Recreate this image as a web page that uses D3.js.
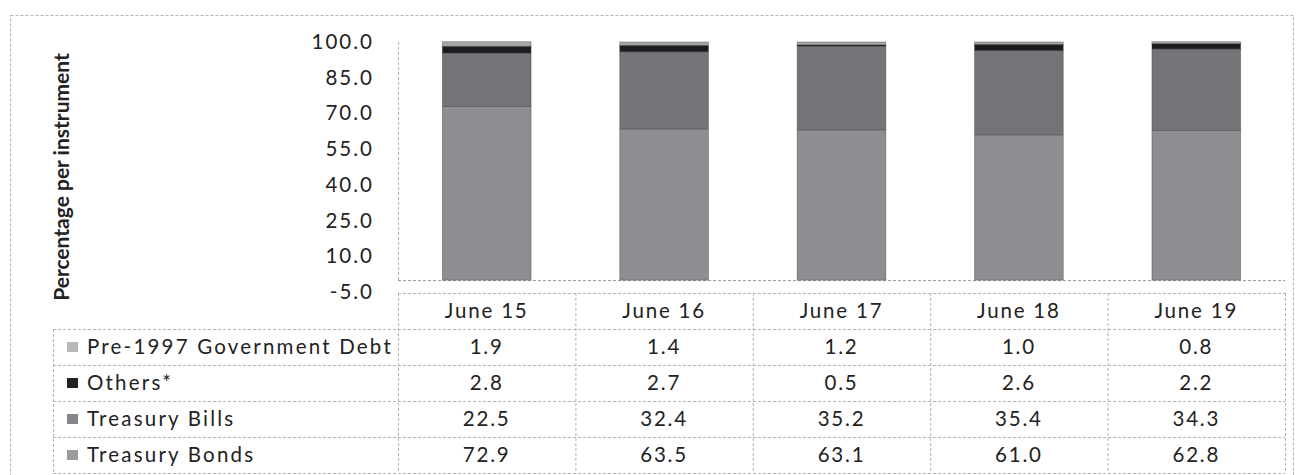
<!DOCTYPE html>
<html>
<head>
<meta charset="utf-8">
<script src="https://cdn.jsdelivr.net/npm/d3@7"></script>
<style>
  html, body { margin: 0; padding: 0; background: #fff; }
  svg { display: block; }
  text { font-family: Lato, "Open Sans", sans-serif; fill: #222; }
</style>
</head>
<body>
<svg id="chart" width="1301" height="475"></svg>
<script>
const categories = ["June 15", "June 16", "June 17", "June 18", "June 19"];
const seriesNames = ["Pre-1997 Government Debt", "Others*", "Treasury Bills", "Treasury Bonds"];
const treasuryBonds = [72.9, 63.5, 63.1, 61.0, 62.8];
const treasuryBills = [22.5, 32.4, 35.2, 35.4, 34.3];
const others = [2.8, 2.7, 0.5, 2.6, 2.2];
const pre1997 = [1.9, 1.4, 1.2, 1.0, 0.8];
const yTicks = [-5, 10, 25, 40, 55, 70, 85, 100];

const seriesValues = {
  "Treasury Bonds": treasuryBonds,
  "Treasury Bills": treasuryBills,
  "Others*": others,
  "Pre-1997 Government Debt": pre1997
};
const stackOrder = ["Treasury Bonds", "Treasury Bills", "Others*", "Pre-1997 Government Debt"];
const barColor = {
  "Treasury Bonds": "#8d8d92",
  "Treasury Bills": "#737378",
  "Others*": "#1c1c1e",
  "Pre-1997 Government Debt": "#a6a6a8"
};
const swatchColor = {
  "Treasury Bonds": "#9b9b9e",
  "Treasury Bills": "#85858a",
  "Others*": "#222",
  "Pre-1997 Government Debt": "#b8b8ba"
};
const fmt = d => d3.format(".1f")(d).replace("\u2212", "-");

const svg = d3.select("#chart");
const plotLeft = 398, plotRight = 1285;
const x = d3.scaleBand().domain(categories).range([plotLeft, plotRight]).paddingInner(0.5).paddingOuter(0.25);
const y = d3.scaleLinear().domain([-5, 100]).range([292, 42]);

const gridCol = "#b4b4b4";
const dash = "3,2";

// outer frame
svg.append("rect").attr("x", 10.5).attr("y", 15.5).attr("width", 1283).attr("height", 470)
  .attr("fill", "none").attr("stroke", gridCol).attr("stroke-dasharray", dash);

// stacked data
const rows = categories.map((c, i) => {
  const r = { cat: c };
  stackOrder.forEach(s => r[s] = seriesValues[s][i]);
  return r;
});
const stacked = d3.stack().keys(stackOrder)(rows);

// axis lines
svg.append("line").attr("x1", plotLeft + 0.5).attr("x2", plotLeft + 0.5).attr("y1", y(100)).attr("y2", y(0))
  .attr("stroke", gridCol).attr("stroke-dasharray", dash);
svg.append("line").attr("x1", plotLeft).attr("x2", plotRight).attr("y1", y(0) + 0.5).attr("y2", y(0) + 0.5)
  .attr("stroke", "#999").attr("stroke-dasharray", dash);

// bars
svg.append("g").selectAll("g").data(stacked).join("g")
  .attr("fill", d => barColor[d.key])
  .selectAll("rect").data(d => d).join("rect")
  .attr("x", d => x(d.data.cat))
  .attr("width", x.bandwidth())
  .attr("y", d => y(d[1]))
  .attr("height", d => y(d[0]) - y(d[1]))
  .attr("stroke", "rgba(50,50,55,0.45)")
  .attr("stroke-width", 0.8);

// y axis
const yAxis = d3.axisLeft(y).tickValues(yTicks).tickFormat(fmt).tickSize(0).tickPadding(0);
const yg = svg.append("g").attr("transform", "translate(374,0)").call(yAxis);
yg.select(".domain").remove();
yg.selectAll("text").attr("font-size", 20.5).attr("letter-spacing", "2px")
  .attr("font-family", "Lato, sans-serif").attr("fill", "#222");

// y axis title
svg.append("text")
  .attr("transform", "translate(69,177) rotate(-90)")
  .attr("text-anchor", "middle")
  .attr("font-size", 21).attr("font-weight", "bold")
  .text("Percentage per instrument");

// table
const headerTop = 293, rowH = 36;
const tableLeft = 53;
const tg = svg.append("g");
tg.append("line").attr("x1", plotLeft).attr("x2", plotRight).attr("y1", headerTop + 0.5).attr("y2", headerTop + 0.5)
  .attr("stroke", gridCol).attr("stroke-dasharray", dash);
for (let k = 1; k <= seriesNames.length + 1; k++) {
  const yy = headerTop + k * rowH + 0.5;
  tg.append("line").attr("x1", tableLeft).attr("x2", plotRight).attr("y1", yy).attr("y2", yy)
    .attr("stroke", gridCol).attr("stroke-dasharray", dash);
}
tg.append("line").attr("x1", tableLeft + 0.5).attr("x2", tableLeft + 0.5)
  .attr("y1", headerTop + rowH).attr("y2", headerTop + rowH * (seriesNames.length + 1))
  .attr("stroke", gridCol).attr("stroke-dasharray", dash);
const step = x.step();
for (let k = 0; k <= categories.length; k++) {
  const xx = plotLeft + k * step + 0.5;
  tg.append("line").attr("x1", xx).attr("x2", xx).attr("y1", headerTop)
    .attr("y2", headerTop + rowH * (seriesNames.length + 1))
    .attr("stroke", gridCol).attr("stroke-dasharray", dash);
}
tg.selectAll("text.hdr").data(categories).join("text").attr("class", "hdr")
  .attr("x", d => x(d) + x.bandwidth() / 2)
  .attr("y", headerTop + rowH / 2)
  .attr("dy", "0.35em").attr("text-anchor", "middle")
  .attr("font-size", 20.5).attr("letter-spacing", "1.8px")
  .text(d => d);
seriesNames.forEach((s, r) => {
  const cy = headerTop + rowH * (r + 1) + rowH / 2;
  tg.append("rect").attr("x", 67).attr("y", cy - 5).attr("width", 11).attr("height", 10)
    .attr("fill", swatchColor[s]);
  tg.append("text").attr("x", 87).attr("y", cy).attr("dy", "0.35em")
    .attr("font-size", 20.5).attr("letter-spacing", "2.2px").text(s);
  tg.selectAll("text.v" + r).data(seriesValues[s]).join("text").attr("class", "v" + r)
    .attr("x", (d, i) => x(categories[i]) + x.bandwidth() / 2)
    .attr("y", cy).attr("dy", "0.35em").attr("text-anchor", "middle")
    .attr("font-size", 20.5).attr("letter-spacing", "1.8px")
    .text(d => fmt(d));
});
</script>
</body>
</html>
